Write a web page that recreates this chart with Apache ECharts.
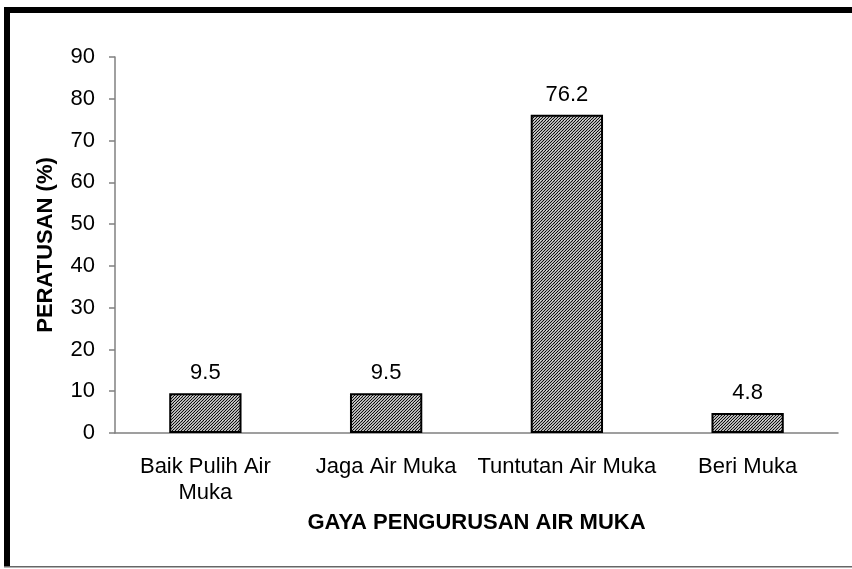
<!DOCTYPE html>
<html>
<head>
<meta charset="utf-8">
<script src="https://cdn.jsdelivr.net/npm/echarts@6/dist/echarts.min.js"></script>
<style>
    html, body { margin: 0; padding: 0; background: #fff; }
    #chart { width: 852px; height: 569px; }
</style>
</head>
<body>
<div id="chart"></div>
<script>
var categories = ['Baik Pulih Air\nMuka', 'Jaga Air Muka', 'Tuntutan Air Muka', 'Beri Muka'];
var values = [9.5, 9.5, 76.2, 4.8];
var yTicks = [0, 10, 20, 30, 40, 50, 60, 70, 80, 90];

var FONT = '"Liberation Sans", Arial, sans-serif';

// hatch fill like excel "dark upward diagonal", a bit finer
function hatchCanvas() {
    var c = document.createElement('canvas');
    c.width = 6; c.height = 6;
    var ctx = c.getContext('2d');
    ctx.fillStyle = '#fff';
    ctx.fillRect(0, 0, 6, 6);
    ctx.strokeStyle = '#000';
    ctx.lineWidth = 1.1;
    for (var o = -6; o <= 12; o += 3) {
        ctx.beginPath();
        ctx.moveTo(o - 6, 12);
        ctx.lineTo(o + 6, 0);
        ctx.stroke();
    }
    return c;
}

var chart = echarts.init(document.getElementById('chart'));
chart.setOption({
    animation: false,
    backgroundColor: '#fff',
    grid: { left: 115, right: 14, top: 57, bottom: 136 },
    xAxis: {
        type: 'category',
        data: categories,
        name: 'GAYA PENGURUSAN AIR MUKA',
        nameLocation: 'middle',
        nameGap: 79,
        nameTextStyle: { fontFamily: FONT, fontSize: 22, fontWeight: 'bold', color: '#000' },
        axisLine: { lineStyle: { color: '#808080', width: 1.5 } },
        axisTick: { length: 6, lineStyle: { color: '#808080', width: 1.5 } },
        axisLabel: { fontFamily: FONT, fontSize: 22, color: '#000', margin: 21, lineHeight: 26, interval: 0 }
    },
    yAxis: {
        type: 'value',
        min: yTicks[0],
        max: yTicks[yTicks.length - 1],
        interval: 10,
        name: 'PERATUSAN (%)',
        nameLocation: 'middle',
        nameGap: 58,
        nameTextStyle: { fontFamily: FONT, fontSize: 22, fontWeight: 'bold', color: '#000' },
        splitLine: { show: false },
        axisLine: { show: true, lineStyle: { color: '#808080', width: 1.5 } },
        axisTick: { show: true, length: 6, lineStyle: { color: '#808080', width: 1.5 } },
        axisLabel: { fontFamily: FONT, fontSize: 22, color: '#000', margin: 20 }
    },
    series: [{
        type: 'bar',
        data: values,
        barWidth: '40%',
        itemStyle: {
            color: { image: hatchCanvas(), repeat: 'repeat' },
            borderColor: '#000',
            borderWidth: 2
        },
        label: {
            show: true,
            position: 'top',
            distance: 9,
            fontFamily: FONT,
            fontSize: 22,
            color: '#000'
        }
    }],
    graphic: [
        { type: 'rect', shape: { x: 4, y: 7, width: 848, height: 6 }, style: { fill: '#000' }, z: 100 },
        { type: 'rect', shape: { x: 4, y: 7, width: 6, height: 560 }, style: { fill: '#000' }, z: 100 },
        { type: 'rect', shape: { x: 4, y: 566, width: 848, height: 1.5 }, style: { fill: '#666' }, z: 100 }
    ]
});
</script>
</body>
</html>
